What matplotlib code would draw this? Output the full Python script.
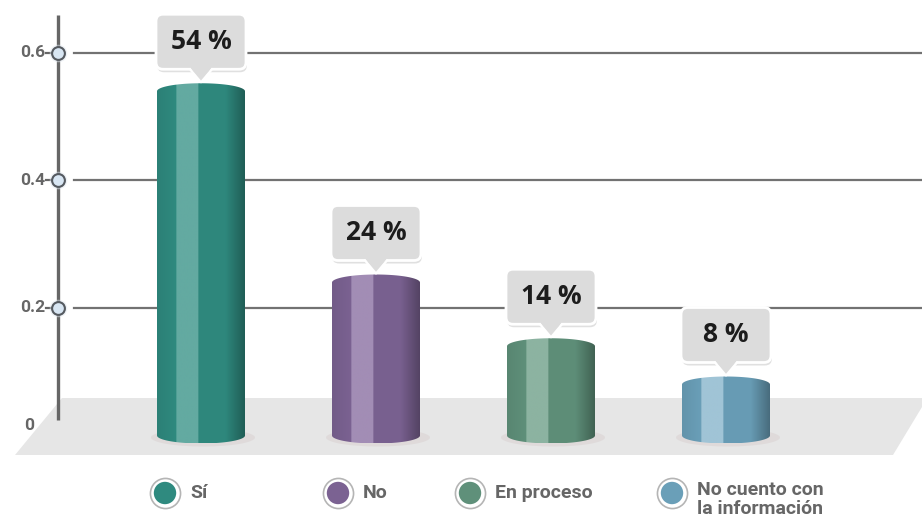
import numpy as np
import matplotlib
matplotlib.use("Agg")
from matplotlib import pyplot as plt
from matplotlib.patches import Polygon, FancyBboxPatch, Ellipse
from matplotlib.colors import to_rgb

categories = ["Sí", "No", "En proceso", "No cuento con\nla información"]
values = [0.54, 0.24, 0.14, 0.08]
base_colors = ["#2f8a7f", "#7b6292", "#5f907a", "#6a9fb8"]
light_colors = ["#63aaa1", "#a28db5", "#8cb3a1", "#a0c4d6"]
yticks = [0.2, 0.4, 0.6]
ytick_labels = ["0.2", "0.4", "0.6"]

# pixel scale of the drawing
PX_X = 1 / 175.0     # one pixel in category units
PX_Y = 1 / 637.5     # one pixel in value units
W, H = 922, 532

fig = plt.figure(figsize=(W / 100, H / 100), dpi=100)
ax = fig.add_axes([0, 0, 1, 1])
ax.set_xlim(-201 * PX_X, (W - 201) * PX_X)
ax.set_ylim(-(H - 435.5) * PX_Y, 435.5 * PX_Y)
ax.axis("off")

label_font = ["Liberation Sans Narrow", "Roboto", "DejaVu Sans"]


def px(x, y):
    """pixel position (from top-left) to data coords"""
    return (x - 201) * PX_X, (435.5 - y) * PX_Y


# floor
floor = Polygon([px(62, 398), px(950, 398), px(922, 407), px(893, 455), px(15, 455)],
                closed=True, facecolor="#e6e6e6", edgecolor="none", zorder=0)
ax.add_patch(floor)

# grid lines
for t in yticks:
    ax.plot([px(74, 0)[0], px(W, 0)[0]], [t, t], color="#727272", lw=1.6, zorder=1)

# y axis
ax.plot([px(58, 0)[0]] * 2, [px(0, 420)[1], px(0, 15)[1]], color="#666666",
        lw=2.4, zorder=2, solid_capstyle="butt")
ax_x = px(58, 0)[0]
for t, lab in zip(yticks, ytick_labels):
    ax.plot([px(46, 0)[0], ax_x], [t, t], color="#666666", lw=1.6, zorder=2)
    ax.scatter([ax_x], [t], s=160, color="#dfe6ee", alpha=0.5, lw=0, zorder=2)
    ax.scatter([ax_x], [t], s=85, facecolor="#d8e6f3", edgecolor="#555a60",
               lw=1.5, zorder=3)
    ax.text(px(45, 0)[0], t, lab, ha="right", va="center", fontsize=12.5,
            fontweight="bold", color="#666666", family=label_font, zorder=3)
ax.text(*px(29, 425), "0", ha="center", va="center", fontsize=12.5,
        fontweight="bold", color="#666666", family=label_font, zorder=3)

half_w = 44 * PX_X
cap_h = 8 * PX_Y
t = np.linspace(0, np.pi, 60)


def profile(base, light, n=200):
    b = np.array(to_rgb(base))
    l = np.array(to_rgb(light))
    cols = []
    for f in np.linspace(0, 1, n):
        if f < 0.22:
            c = b * (0.93 + 0.07 * f / 0.22)
        elif f < 0.47:
            c = l
        elif f < 0.78:
            c = b * 0.98
        else:
            c = b * (0.98 - 0.3 * (f - 0.78) / 0.22)
        cols.append(np.clip(c, 0, 1))
    return np.array(cols)[None, :, :]


for i, (v, base, light) in enumerate(zip(values, base_colors, light_colors)):
    # shadow on floor
    ax.add_patch(Ellipse((i + 2 * PX_X, -2 * PX_Y), 2 * half_w + 16 * PX_X, 18 * PX_Y,
                         facecolor="#d2c6c6", edgecolor="none", alpha=0.35, zorder=3))
    # cylinder outline
    pts = [(i - half_w, v), (i - half_w, 0)]
    pts += [(i - half_w * np.cos(a), -cap_h * np.sin(a)) for a in t]
    pts += [(i + half_w, v)]
    pts += [(i + half_w * np.cos(a), v + cap_h * np.sin(a)) for a in t]
    shape = Polygon(pts, closed=True, facecolor="none", edgecolor="none", zorder=4)
    ax.add_patch(shape)
    img = ax.imshow(profile(base, light), extent=(i - half_w, i + half_w, -cap_h, v + cap_h),
                    aspect="auto", interpolation="bilinear", zorder=4)
    img.set_clip_path(shape)

    # callout
    tip = v + cap_h + 1 * PX_Y
    bw, bh = 90 * PX_X, 55 * PX_Y
    by = tip + 13 * PX_Y
    asp = PX_Y / PX_X
    ax.add_patch(FancyBboxPatch((i - bw / 2 + 1 * PX_X, by - 3 * PX_Y), bw, bh,
                                boxstyle="round,pad=0,rounding_size=%f" % (7 * PX_X),
                                mutation_aspect=asp, facecolor="#000000", alpha=0.12,
                                edgecolor="none", zorder=5))
    ax.add_patch(FancyBboxPatch((i - bw / 2, by), bw, bh,
                                boxstyle="round,pad=0,rounding_size=%f" % (7 * PX_X),
                                mutation_aspect=asp, facecolor="#dcdcdc",
                                edgecolor="white", lw=2, zorder=6))
    tri_w = 11 * PX_X
    ax.add_patch(Polygon([(i - tri_w, by + 2 * PX_Y), (i, tip), (i + tri_w, by + 2 * PX_Y)],
                         closed=True, facecolor="#dcdcdc", edgecolor="none", zorder=7))
    ax.plot([i - tri_w, i, i + tri_w], [by, tip, by], color="white", lw=1.6, zorder=7)
    ax.text(i, by + bh / 2, "%d %%" % round(v * 100), ha="center", va="center",
            fontsize=19, fontweight="bold", color="#1c1c1c",
            family=["Open Sans", "Noto Sans", "DejaVu Sans"], zorder=8)

# legend
leg_x = [165, 338, 470, 672]
for lx, cat, base in zip(leg_x, categories, base_colors):
    cx, cy = px(lx, 493)
    ax.scatter([cx], [cy], s=470, facecolor="white", edgecolor="#b5b5b5", lw=1.2, zorder=5)
    ax.scatter([cx], [cy], s=260, facecolor=base, edgecolor="none", zorder=6)
    tx = px(lx + 25, 0)[0]
    if "\n" in cat:
        ax.text(tx, px(0, 481)[1], cat, ha="left", va="top", fontsize=14,
                fontweight="bold", color="#666666", family=label_font,
                multialignment="center", linespacing=1.1, zorder=6)
    else:
        ax.text(tx, cy, cat, ha="left", va="center", fontsize=14,
                fontweight="bold", color="#666666", family=label_font, zorder=6)

fig.savefig("out.png", dpi=100)
